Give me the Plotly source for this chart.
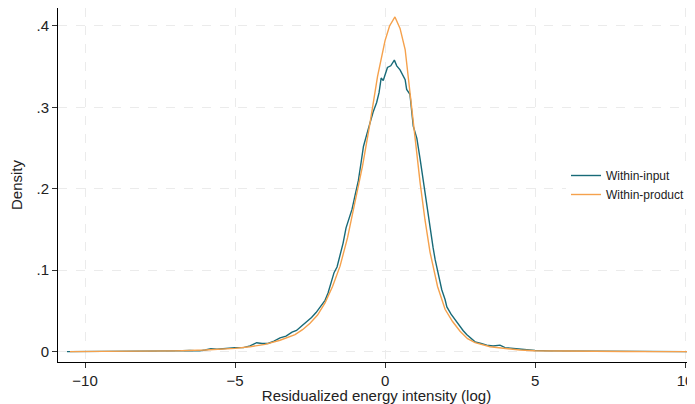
"""Kernel densities of residualized energy intensity, within-input vs within-product."""

import plotly.graph_objects as go

# Within-input density (noisy curve)
input_x = [-10.6, -9.5, -8.5, -7.5, -7.0, -6.5, -6.17, -6.0, -5.8, -5.6, -5.3, -5.0,
           -4.72, -4.5, -4.28, -4.1, -3.9, -3.7, -3.5, -3.3, -3.1, -2.95, -2.8, -2.6,
           -2.45, -2.3, -2.15, -2.0, -1.9, -1.78, -1.7, -1.6, -1.5, -1.4, -1.3, -1.2,
           -1.1, -1.0, -0.89, -0.8, -0.72, -0.6, -0.5, -0.4, -0.28, -0.2, -0.13, -0.06,
           0.08, 0.19, 0.31, 0.39, 0.5, 0.6, 0.67, 0.72, 0.83, 0.94, 1.0, 1.06, 1.17,
           1.28, 1.4, 1.5, 1.6, 1.67, 1.8, 1.89, 2.0, 2.06, 2.2, 2.33, 2.5, 2.6, 2.72,
           2.85, 3.0, 3.2, 3.39, 3.6, 3.83, 4.0, 4.3, 4.5, 4.8, 5.0, 5.5, 6.0, 7.0, 8.0,
           9.0, 10.1]
input_density = [0.0, 0.0001, 0.0003, 0.0007, 0.001, 0.0015, 0.001, 0.002, 0.0035, 0.003,
                 0.004, 0.005, 0.005, 0.007, 0.011, 0.010, 0.010, 0.013, 0.017, 0.019,
                 0.024, 0.026, 0.031, 0.037, 0.042, 0.048, 0.055, 0.063, 0.072, 0.088,
                 0.097, 0.104, 0.118, 0.133, 0.152, 0.163, 0.175, 0.192, 0.210, 0.232,
                 0.252, 0.268, 0.281, 0.294, 0.306, 0.318, 0.336, 0.333, 0.349, 0.351,
                 0.358, 0.351, 0.346, 0.338, 0.334, 0.322, 0.316, 0.277, 0.270, 0.262,
                 0.236, 0.207, 0.175, 0.150, 0.128, 0.113, 0.092, 0.076, 0.064, 0.055,
                 0.046, 0.039, 0.031, 0.026, 0.021, 0.017, 0.012, 0.010, 0.008, 0.007,
                 0.008, 0.005, 0.004, 0.003, 0.0025, 0.0015, 0.001, 0.0008, 0.0005,
                 0.0003, 0.0002, 0.0]

# Within-product density (smooth curve)
product_x = [-10.5, -9.0, -8.0, -7.0, -6.0, -5.0, -4.5, -4.0, -3.5, -3.0, -2.75, -2.5,
             -2.25, -2.0, -1.75, -1.5, -1.25, -1.0, -0.75, -0.5, -0.25, 0.0, 0.15, 0.33,
             0.5, 0.67, 0.83, 1.0, 1.17, 1.33, 1.5, 1.75, 2.0, 2.25, 2.5, 2.75, 3.0, 3.5,
             4.0, 4.5, 5.0, 6.0, 7.0, 8.0, 9.0, 10.1]
product_density = [0.0, 0.0003, 0.0006, 0.001, 0.002, 0.004, 0.006, 0.009, 0.014, 0.021,
                   0.027, 0.035, 0.045, 0.060, 0.080, 0.105, 0.140, 0.185, 0.228, 0.281,
                   0.338, 0.382, 0.400, 0.411, 0.397, 0.371, 0.318, 0.264, 0.207, 0.162,
                   0.122, 0.080, 0.052, 0.037, 0.025, 0.016, 0.011, 0.006, 0.004, 0.002,
                   0.0012, 0.0006, 0.0003, 0.0002, 0.0001, 0.0]

x_ticks = [-10, -5, 0, 5, 10]
y_ticks = [0, 0.1, 0.2, 0.3, 0.4]
y_labels = ["0", ".1", ".2", ".3", ".4"]

fig = go.Figure()
fig.add_trace(go.Scatter(x=input_x, y=input_density, mode="lines", name="Within-input",
                         line=dict(color="#186a78", width=1.4)))
fig.add_trace(go.Scatter(x=product_x, y=product_density, mode="lines", name="Within-product",
                         line=dict(color="#f5a14c", width=1.4)))

axis_common = dict(
    showgrid=True, gridcolor="#ebebeb", gridwidth=1, griddash="dash",
    zeroline=False, showline=True, linecolor="black", linewidth=1,
    ticks="outside", ticklen=5, tickcolor="#333333",
    tickfont=dict(size=15, color="#222222"),
)

# the page body adds an 8px offset, so the figure is sized 8px smaller
fig.update_layout(
    width=687, height=396,
    margin=dict(l=50, r=0, t=0, b=42),
    paper_bgcolor="white", plot_bgcolor="white",
    font=dict(family="Liberation Sans, Arial, sans-serif", color="#222222"),
    xaxis=dict(range=[-10.9, 10.33], tickvals=x_ticks, automargin=False,
               title=dict(text="Residualized energy intensity (log)", font=dict(size=15)),
               **axis_common),
    yaxis=dict(range=[-0.0127, 0.422], tickvals=y_ticks, ticktext=y_labels, automargin=True,
               title=dict(text="Density", font=dict(size=15), standoff=10),
               **axis_common),
    legend=dict(x=0.7975, y=0.5, xanchor="left", yanchor="middle",
                bgcolor="white", borderwidth=0, font=dict(size=12)),
    showlegend=True,
)

fig.write_html("out.html")
